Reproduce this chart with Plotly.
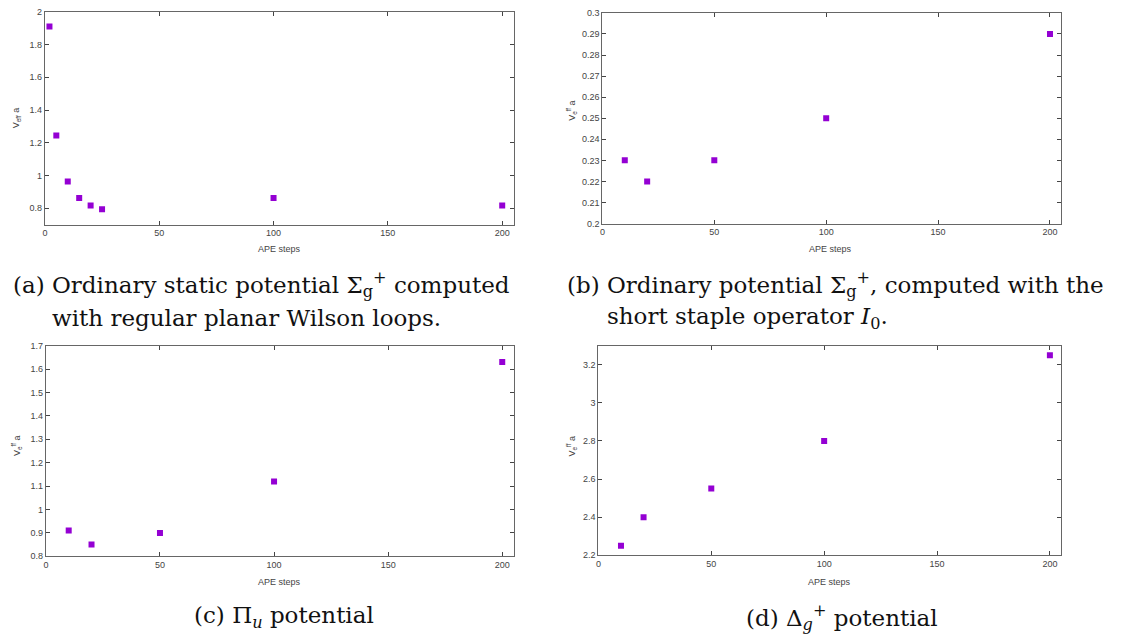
import plotly.graph_objects as go

# ---- data ----
a_x = [2, 5, 10, 15, 20, 25, 100, 200]
a_y = [1.91, 1.245, 0.963, 0.862, 0.817, 0.793, 0.862, 0.817]
b_x = [10, 20, 50, 100, 200]
b_y = [0.23, 0.22, 0.23, 0.25, 0.29]
c_x = [10, 20, 50, 100, 200]
c_y = [0.91, 0.85, 0.90, 1.12, 1.63]
d_x = [10, 20, 50, 100, 200]
d_y = [2.25, 2.40, 2.55, 2.80, 3.25]

x_ticks = [0, 50, 100, 150, 200]
a_yticks = [0.8, 1.0, 1.2, 1.4, 1.6, 1.8, 2.0]
b_yticks = [0.2, 0.21, 0.22, 0.23, 0.24, 0.25, 0.26, 0.27, 0.28, 0.29, 0.3]
c_yticks = [0.8, 0.9, 1.0, 1.1, 1.2, 1.3, 1.4, 1.5, 1.6, 1.7]
d_yticks = [2.2, 2.4, 2.6, 2.8, 3.0, 3.2]

W, H = 1129, 643
MARK = dict(symbol="square", size=6, color="#9400d3")
TICKFONT = dict(family="Liberation Sans", size=9, color="#444444")
CAPFONT = dict(family="DejaVu Serif", size=23, color="#111111")


def px(x):
    return x / W


def py(y):
    return 1 - y / H


fig = go.Figure()
panels = [
    ("", a_x, a_y), ("2", b_x, b_y), ("3", c_x, c_y), ("4", d_x, d_y),
]
for suf, xs, ys in panels:
    fig.add_trace(go.Scatter(x=xs, y=ys, mode="markers", marker=MARK,
                             xaxis="x" + suf, yaxis="y" + suf,
                             showlegend=False, hoverinfo="skip"))

ax_common = dict(showline=True, linecolor="#666666", linewidth=1, mirror="ticks",
                 ticks="inside", ticklen=4, tickcolor="#444444", tickwidth=1,
                 showgrid=False, zeroline=False, tickfont=TICKFONT)

doms = {
    "": ((42, 512), (7, 223), [0.7, 2.0], a_yticks),
    "2": ((601, 1061), (8, 222), [0.2, 0.3], b_yticks),
    "3": ((43, 512), (346, 560), [0.8, 1.7], c_yticks),
    "4": ((597, 1061), (346, 559), [2.2, 3.3], d_yticks),
}
layout = dict(width=W, height=H, margin=dict(l=0, r=0, t=0, b=0),
              paper_bgcolor="white", plot_bgcolor="white",
              font=dict(family="Liberation Sans", size=9, color="#444444"))
for suf, ((x0, x1), (y0, y1), yr, yt) in doms.items():
    layout["xaxis" + suf] = dict(ax_common, domain=[px(x0), px(x1)], range=[0, 205],
                                 tickvals=x_ticks, anchor="y" + suf)
    layout["yaxis" + suf] = dict(ax_common, domain=[py(y1), py(y0)], range=yr,
                                 tickvals=yt, anchor="x" + suf)
fig.update_layout(**layout)

ann = []
# axis titles
for (xc, yc) in [(277, 248), (830, 248), (277, 586), (829, 586)]:
    ann.append(dict(x=px(xc), y=py(yc), text="APE steps", font=TICKFONT))
ylabels = [(13, 115, "V<sub>eff</sub> a"), (570, 107, "V<sub>e</sub><sup>ff</sup> a"),
           (13, 448, "V<sub>e</sub><sup>ff</sup> a"), (570, 448, "V<sub>e</sub><sup>ff</sup> a")]
for xc, yc, t in ylabels:
    ann.append(dict(x=px(xc), y=py(yc), text=t, textangle=-90, font=TICKFONT))
# captions
caps = [
    (8, 284, "left", "(a) Ordinary static potential Σ<sub>g</sub><sup>+</sup> computed"),
    (47, 318, "left", "with regular planar Wilson loops."),
    (563, 284, "left", "(b) Ordinary potential Σ<sub>g</sub><sup>+</sup>, computed with the"),
    (604, 318, "left", "short staple operator <i>I</i><sub>0</sub>."),
    (190, 622, "left", "(c) Π<sub><i>u</i></sub> potential"),
    (743, 622, "left", "(d) Δ<sub><i>g</i></sub><sup>+</sup> potential"),
]
for xc, yc, xa, t in caps:
    ann.append(dict(x=px(xc), y=py(yc), text=t, xanchor=xa, font=CAPFONT))
for a in ann:
    a.update(xref="paper", yref="paper", showarrow=False)
    a.setdefault("xanchor", "center")
    a["yanchor"] = "middle"
fig.update_layout(annotations=ann)

fig.write_html("out.html")
